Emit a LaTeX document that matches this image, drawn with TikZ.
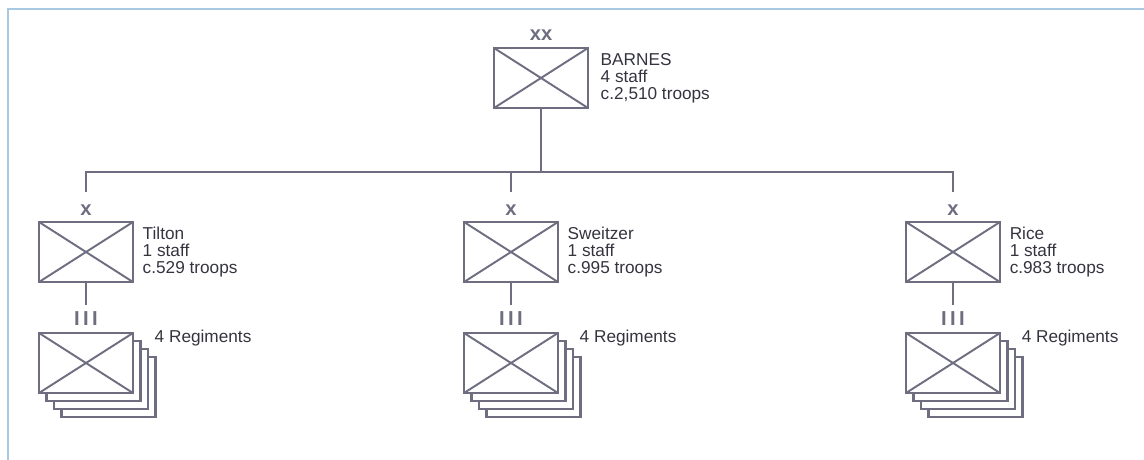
\documentclass[tikz,border=0pt]{standalone}
\usepackage{fontspec}
\setmainfont{Liberation Sans}
\usetikzlibrary{positioning}
\definecolor{unitgray}{HTML}{6E6E80}
\definecolor{textgray}{HTML}{34343F}
\definecolor{frameblue}{HTML}{A9C9E2}

\begin{document}
\begin{tikzpicture}[
x=0.02cm,
y=-0.02cm,
node distance=0.2cm,
plainunit/.style={
draw=unitgray,
fill=white,
line width=1.6pt,
minimum width=1.88cm,
minimum height=1.2cm,
inner sep=0pt
},
unit/.style={
plainunit,
path picture={
\draw[unitgray, line width=1.1pt]
(path picture bounding box.north west) -- (path picture bounding box.south east)
(path picture bounding box.south west) -- (path picture bounding box.north east);
}
},
info/.style={
align=left,
text=textgray,
font=\fontsize{9.8}{9.8}\selectfont,
inner sep=0pt
},
echelon/.style={
text=unitgray,
font=\fontsize{11.5}{11.5}\selectfont\bfseries,
inner sep=0pt
},
link/.style={
draw=unitgray,
line width=0.9pt
},
frame/.style={
draw=frameblue,
line width=1.2pt
}
]

\useasboundingbox (0,0) rectangle (1144,460);
\draw[frame] (8,470) -- (8,9) -- (1150,9);

% division
\node[unit] (barnes) at (541,78) {};
\node[echelon, above=0.12cm of barnes] (barnesxx) {xx};
\node[info, right=0.22cm of barnes] (barnestext)
{BARNES\\
4 staff\\
c.2,510 troops};

% brigades
\node[unit] (tilton) at (86,252) {};
\node[echelon, above=0.1cm of tilton] (tiltonx) {x};
\node[info, right=0.16cm of tilton] (tiltontext)
{Tilton\\
1 staff\\
c.529 troops};

\node[unit] (sweitzer) at (511,252) {};
\node[echelon, above=0.1cm of sweitzer] (sweitzerx) {x};
\node[info, right=0.16cm of sweitzer] (sweitzertext)
{Sweitzer\\
1 staff\\
c.995 troops};

\node[unit] (rice) at (953,252) {};
\node[echelon, above=0.1cm of rice] (ricex) {x};
\node[info, right=0.16cm of rice] (ricetext)
{Rice\\
1 staff\\
c.983 troops};

% regiments, stacked four deep
\node[plainunit] (tiltonreg3) at (108.5,387) {};
\node[plainunit] (tiltonreg2) at (101,379) {};
\node[plainunit] (tiltonreg1) at (93.5,371) {};
\node[unit] (tiltonreg) at (86,363) {};
\node[echelon, above=0.12cm of tiltonreg] (tiltoniii) {I\,I\,I};
\node[info, anchor=west] (tiltonregtext)
at ([xshift=0.4cm,yshift=-0.12cm]tiltonreg.north east) {4 Regiments};

\node[plainunit] (sweitzerreg3) at (533.5,387) {};
\node[plainunit] (sweitzerreg2) at (526,379) {};
\node[plainunit] (sweitzerreg1) at (518.5,371) {};
\node[unit] (sweitzerreg) at (511,363) {};
\node[echelon, above=0.12cm of sweitzerreg] (sweitzeriii) {I\,I\,I};
\node[info, anchor=west] (sweitzerregtext)
at ([xshift=0.4cm,yshift=-0.12cm]sweitzerreg.north east) {4 Regiments};

\node[plainunit] (ricereg3) at (975.5,387) {};
\node[plainunit] (ricereg2) at (968,379) {};
\node[plainunit] (ricereg1) at (960.5,371) {};
\node[unit] (ricereg) at (953,363) {};
\node[echelon, above=0.12cm of ricereg] (riceiii) {I\,I\,I};
\node[info, anchor=west] (riceregtext)
at ([xshift=0.4cm,yshift=-0.12cm]ricereg.north east) {4 Regiments};

% connectors
\coordinate (bus) at (541,172);

\draw[link] (barnes.south) -- (bus);

\draw[link] ([yshift=0.24cm]tiltonx.north) |- (bus)
-| ([yshift=0.24cm]ricex.north);

\draw[link] ([yshift=0.24cm]sweitzerx.north) -- (sweitzerx.north |- bus);

\draw[link] (tilton.south) -- ([yshift=0.12cm]tiltoniii.north);

\draw[link] (sweitzer.south) -- ([yshift=0.12cm]sweitzeriii.north);

\draw[link] (rice.south) -- ([yshift=0.12cm]riceiii.north);

\end{tikzpicture}
\end{document}
